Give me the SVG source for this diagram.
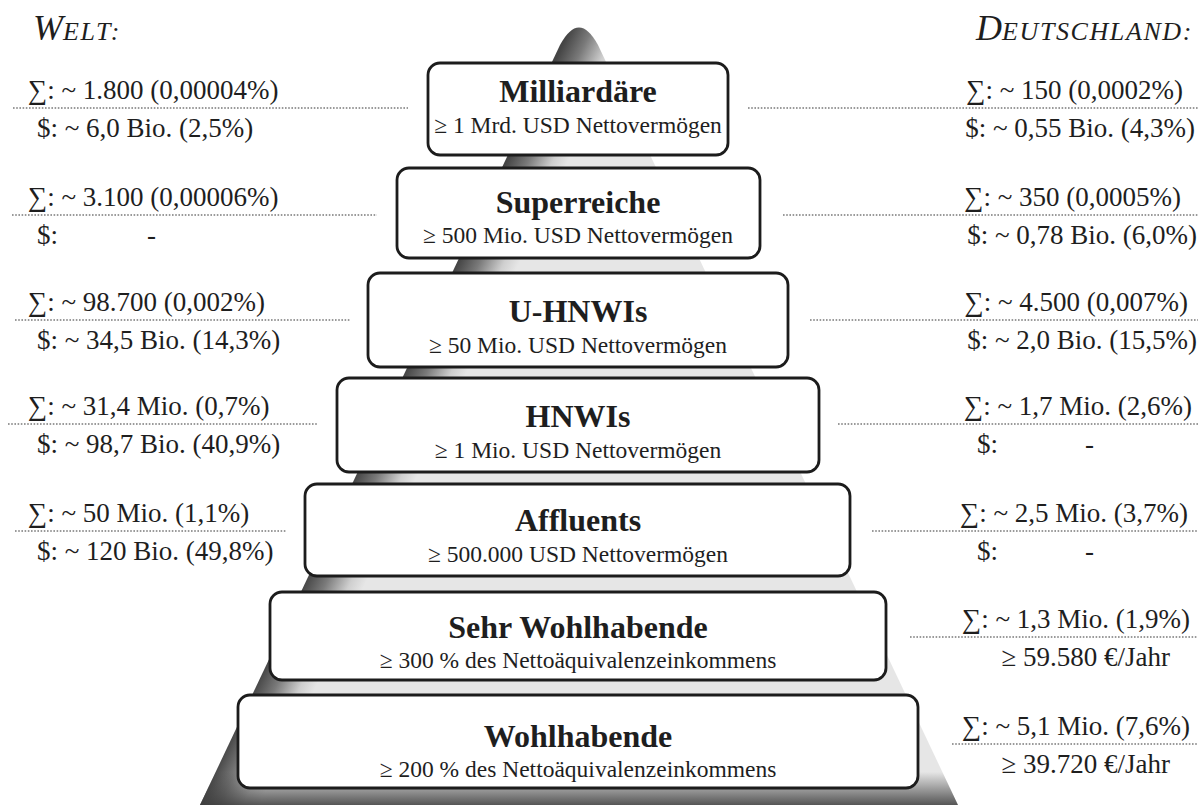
<svg xmlns="http://www.w3.org/2000/svg" width="1201" height="805" viewBox="0 0 1201 805">
<style>
.box{fill:#fff;stroke:#1c1c1c;stroke-width:2.8}
.t{font-family:"Liberation Serif","DejaVu Serif",serif;font-weight:bold;font-size:32px;text-anchor:middle;fill:#1e1e1e}
.s{font-family:"Liberation Serif","DejaVu Serif",serif;font-size:23.5px;text-anchor:middle;fill:#1e1e1e}
.v{font-family:"Liberation Serif","DejaVu Serif",serif;font-size:27px;fill:#1e1e1e}
.r{text-anchor:end}
.h{font-family:"Liberation Serif","DejaVu Serif",serif;font-style:italic;fill:#1e1e1e}
.sc{font-size:26px;letter-spacing:1.6px}
.dot{fill:none;stroke:#7a7a7a;stroke-width:1.6;stroke-dasharray:1.6 1.6}
</style>
<defs>
<linearGradient id="edge" gradientUnits="userSpaceOnUse" x1="380" y1="425" x2="430" y2="449">
<stop offset="0" stop-color="#454545"/>
<stop offset="0.35" stop-color="#7a7a7a"/>
<stop offset="0.75" stop-color="#cfcfcf"/>
<stop offset="1" stop-color="#e6e6e6"/>
</linearGradient>
<linearGradient id="bottom" gradientUnits="userSpaceOnUse" x1="0" y1="772" x2="0" y2="805">
<stop offset="0" stop-color="#3c3c3c" stop-opacity="0"/>
<stop offset="1" stop-color="#3c3c3c" stop-opacity="0.85"/>
</linearGradient>
</defs>

<g id="pyramid">
<path d="M200 805 L560 45 Q579 10 598 45 L958 805 Z" fill="url(#edge)"/>
<path d="M200 805 L560 45 Q579 10 598 45 L958 805 Z" fill="url(#bottom)"/>
</g>

<g id="connectors">
<line class="dot" x1="13" y1="108" x2="408" y2="108"/>
<line class="dot" x1="12" y1="215" x2="377" y2="215"/>
<line class="dot" x1="15" y1="320" x2="350" y2="320"/>
<line class="dot" x1="8" y1="424" x2="318" y2="424"/>
<line class="dot" x1="15" y1="531" x2="287" y2="531"/>
<line class="dot" x1="748" y1="108" x2="1198" y2="108"/>
<line class="dot" x1="783" y1="215" x2="1198" y2="215"/>
<line class="dot" x1="810" y1="320" x2="1198" y2="320"/>
<line class="dot" x1="838" y1="424" x2="1198" y2="424"/>
<line class="dot" x1="872" y1="531" x2="1198" y2="531"/>
<line class="dot" x1="910" y1="637" x2="1198" y2="637"/>
<line class="dot" x1="952" y1="744" x2="1198" y2="744"/>
</g>

<g id="milliardaere">
<rect class="box" x="428" y="63" width="300" height="92" rx="12"/>
<text class="t" x="578" y="102">Milliardäre</text>
<text class="s" x="578" y="133">≥ 1 Mrd. USD Nettovermögen</text>
</g>
<g id="superreiche">
<rect class="box" x="397" y="168" width="363" height="90" rx="12"/>
<text class="t" x="578" y="213">Superreiche</text>
<text class="s" x="578" y="243">≥ 500 Mio. USD Nettovermögen</text>
</g>
<g id="u-hnwis">
<rect class="box" x="368" y="273" width="420" height="94" rx="12"/>
<text class="t" x="578" y="322">U-HNWIs</text>
<text class="s" x="578" y="353">≥ 50 Mio. USD Nettovermögen</text>
</g>
<g id="hnwis">
<rect class="box" x="337" y="378" width="482" height="94" rx="12"/>
<text class="t" x="578" y="427">HNWIs</text>
<text class="s" x="578" y="458">≥ 1 Mio. USD Nettovermögen</text>
</g>
<g id="affluents">
<rect class="box" x="305" y="484" width="545" height="92" rx="12"/>
<text class="t" x="578" y="531">Affluents</text>
<text class="s" x="578" y="562">≥ 500.000 USD Nettovermögen</text>
</g>
<g id="sehr-wohlhabende">
<rect class="box" x="270" y="592" width="616" height="88" rx="12"/>
<text class="t" x="578" y="638">Sehr Wohlhabende</text>
<text class="s" x="578" y="668">≥ 300 % des Nettoäquivalenzeinkommens</text>
</g>
<g id="wohlhabende">
<rect class="box" x="238" y="695" width="680" height="93" rx="12"/>
<text class="t" x="578" y="747">Wohlhabende</text>
<text class="s" x="578" y="777">≥ 200 % des Nettoäquivalenzeinkommens</text>
</g>

<g id="welt">
<text class="h" x="33" y="40"><tspan font-size="36">W</tspan><tspan class="sc">ELT:</tspan></text>
<text class="v" x="28" y="99">∑: ~ 1.800 (0,00004%)</text>
<text class="v" x="37" y="137">$: ~ 6,0 Bio. (2,5%)</text>
<text class="v" x="28" y="206">∑: ~ 3.100 (0,00006%)</text>
<text class="v" x="37" y="244">$:</text>
<text class="v" x="147" y="244">-</text>
<text class="v" x="28" y="311">∑: ~ 98.700 (0,002%)</text>
<text class="v" x="37" y="349">$: ~ 34,5 Bio. (14,3%)</text>
<text class="v" x="28" y="415">∑: ~ 31,4 Mio. (0,7%)</text>
<text class="v" x="37" y="453">$: ~ 98,7 Bio. (40,9%)</text>
<text class="v" x="28" y="522">∑: ~ 50 Mio. (1,1%)</text>
<text class="v" x="37" y="560">$: ~ 120 Bio. (49,8%)</text>
</g>

<g id="deutschland">
<text class="h" x="1193" y="40" text-anchor="end"><tspan font-size="36">D</tspan><tspan class="sc">EUTSCHLAND:</tspan></text>
<text class="v r" x="1183" y="99">∑: ~ 150 (0,0002%)</text>
<text class="v r" x="1195" y="137">$: ~ 0,55 Bio. (4,3%)</text>
<text class="v r" x="1181" y="206">∑: ~ 350 (0,0005%)</text>
<text class="v r" x="1197" y="244">$: ~ 0,78 Bio. (6,0%)</text>
<text class="v r" x="1188" y="311">∑: ~ 4.500 (0,007%)</text>
<text class="v r" x="1197" y="349">$: ~ 2,0 Bio. (15,5%)</text>
<text class="v r" x="1192" y="415">∑: ~ 1,7 Mio. (2,6%)</text>
<text class="v" x="977" y="453">$:</text>
<text class="v" x="1085" y="453">-</text>
<text class="v r" x="1188" y="522">∑: ~ 2,5 Mio. (3,7%)</text>
<text class="v" x="977" y="560">$:</text>
<text class="v" x="1085" y="560">-</text>
<text class="v r" x="1190" y="628">∑: ~ 1,3 Mio. (1,9%)</text>
<text class="v r" x="1170" y="666">≥ 59.580 €/Jahr</text>
<text class="v r" x="1190" y="735">∑: ~ 5,1 Mio. (7,6%)</text>
<text class="v r" x="1170" y="773">≥ 39.720 €/Jahr</text>
</g>
</svg>
